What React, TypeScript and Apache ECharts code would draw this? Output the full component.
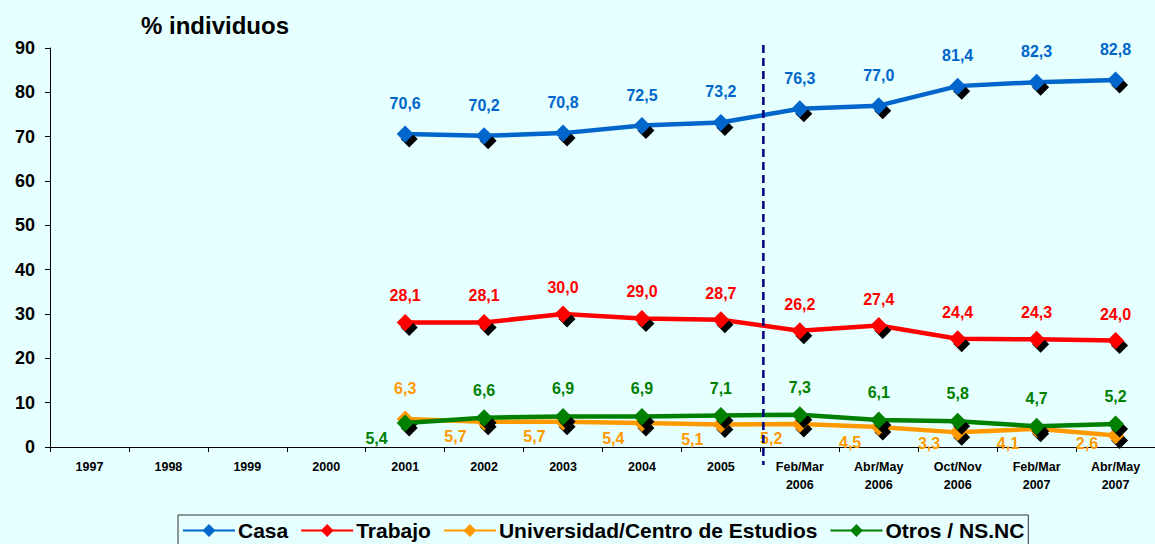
import React, { useEffect, useRef } from "react";
import * as echarts from "echarts";

const categories = [
  "1997", "1998", "1999", "2000", "2001", "2002", "2003", "2004", "2005",
  "Feb/Mar\n2006", "Abr/May\n2006", "Oct/Nov\n2006", "Feb/Mar\n2007", "Abr/May\n2007",
];
const casa = [null, null, null, null, 70.6, 70.2, 70.8, 72.5, 73.2, 76.3, 77.0, 81.4, 82.3, 82.8];
const trabajo = [null, null, null, null, 28.1, 28.1, 30.0, 29.0, 28.7, 26.2, 27.4, 24.4, 24.3, 24.0];
const universidad = [null, null, null, null, 6.3, 5.7, 5.7, 5.4, 5.1, 5.2, 4.5, 3.3, 4.1, 2.6];
const otros = [null, null, null, null, 5.4, 6.6, 6.9, 6.9, 7.1, 7.3, 6.1, 5.8, 4.7, 5.2];
const seriesNames = ["Casa", "Trabajo", "Universidad/Centro de Estudios", "Otros / NS.NC"];
const colors = ["#0066CC", "#FF0000", "#FF9900", "#008000"];
const yTicks = { min: 0, max: 90, interval: 10 };

const FONT = "'Liberation Sans', Arial, sans-serif";

export default function App() {
  const ref = useRef<HTMLDivElement>(null);
  useEffect(() => {
    if (!ref.current) return;
    const chart = echarts.init(ref.current, null, { renderer: "svg" });
    const gridTop = 48;
    const gridHeight = 399;
    const pxPerUnit = gridHeight / (yTicks.max - yTicks.min);

    const fmt = (p: any) => {
      const v = typeof p.value === "number" ? p.value : p.value?.value;
      return v == null ? "" : Number(v).toFixed(1).replace(".", ",");
    };

    const lowLabel = (v: number) => ({
      position: "left",
      distance: 9,
      offset: [0, Math.min(15, v * pxPerUnit - 4)],
    });

    const mkData = (arr: (number | null)[], lowIdx: (i: number) => boolean) =>
      arr.map((v, i) => {
        if (v == null) return null;
        if (lowIdx(i)) return { value: v, label: lowLabel(v) };
        return v;
      });

    const distances = [14, 10, 14, 11];
    const dataSets = [
      mkData(casa, () => false),
      mkData(trabajo, () => false),
      mkData(universidad, (i) => i > 4),
      mkData(otros, (i) => i === 4),
    ];

    const series = dataSets.map((d, k) => ({
      name: seriesNames[k],
      type: "line",
      data: d,
      symbol: "diamond",
      symbolSize: 17,
      connectNulls: false,
      z: 10 - k + (k === 3 ? 2 : 0),
      lineStyle: { color: colors[k], width: 4.5 },
      itemStyle: {
        color: colors[k],
        shadowColor: "#000",
        shadowBlur: 0,
        shadowOffsetX: 4,
        shadowOffsetY: 5,
      },
      label: {
        show: true,
        position: "top",
        distance: distances[k],
        color: colors[k],
        fontFamily: FONT,
        fontWeight: "bold",
        fontSize: 16,
        formatter: fmt,
      },
      emphasis: { disabled: true },
    }));

    chart.setOption({
      animation: false,
      backgroundColor: "#E6FFFF",
      color: colors,
      title: {
        text: "% individuos",
        left: 136,
        top: 8,
        textStyle: { fontFamily: FONT, fontWeight: "bold", fontSize: 24, color: "#000" },
      },
      legend: {
        data: seriesNames,
        left: 178,
        top: 515,
        orient: "horizontal",
        backgroundColor: "#E6FFFF",
        borderColor: "#333",
        borderWidth: 1,
        padding: [5, 4, 8, 4],
        itemGap: 12,
        itemWidth: 52,
        itemHeight: 16,
        itemStyle: { shadowBlur: 0, shadowOffsetX: 0, shadowOffsetY: 0, shadowColor: "transparent" },
        textStyle: { fontFamily: FONT, fontWeight: "bold", fontSize: 21, color: "#000", padding: [0, 0, 0, -2] },
      },
      grid: { left: 50, top: gridTop, width: 1110, height: gridHeight, containLabel: false },
      xAxis: {
        type: "category",
        data: categories,
        boundaryGap: true,
        axisLine: { show: true, lineStyle: { color: "#000", width: 1 } },
        axisTick: { show: true, interval: 0, length: 5, lineStyle: { color: "#000" } },
        axisLabel: {
          interval: 0,
          margin: 11,
          color: "#000",
          fontFamily: FONT,
          fontWeight: "bold",
          fontSize: 12.5,
          lineHeight: 18,
        },
        splitLine: { show: false },
      },
      yAxis: {
        type: "value",
        min: yTicks.min,
        max: yTicks.max,
        interval: yTicks.interval,
        axisLine: { show: true, lineStyle: { color: "#000", width: 1 } },
        axisTick: { show: true, length: 5, lineStyle: { color: "#000" } },
        axisLabel: { margin: 15, color: "#000", fontFamily: FONT, fontWeight: "bold", fontSize: 18 },
        splitLine: { show: false },
      },
      series,
    });

    const x8 = chart.convertToPixel({ xAxisIndex: 0 }, 8) as number;
    const x9 = chart.convertToPixel({ xAxisIndex: 0 }, 9) as number;
    const xb = (x8 + x9) / 2 + 3;
    chart.setOption({
      graphic: [
        {
          type: "line",
          z: 100,
          shape: { x1: xb, y1: gridTop - 3, x2: xb, y2: gridTop + gridHeight + 18 },
          style: { stroke: "#000080", lineWidth: 2.5, lineDash: [8, 5] },
        },
      ],
    });

    return () => chart.dispose();
  }, []);
  return (
    <div
      ref={ref}
      style={{ position: "fixed", left: 0, top: 0, width: 1155, height: 544 }}
    />
  );
}
